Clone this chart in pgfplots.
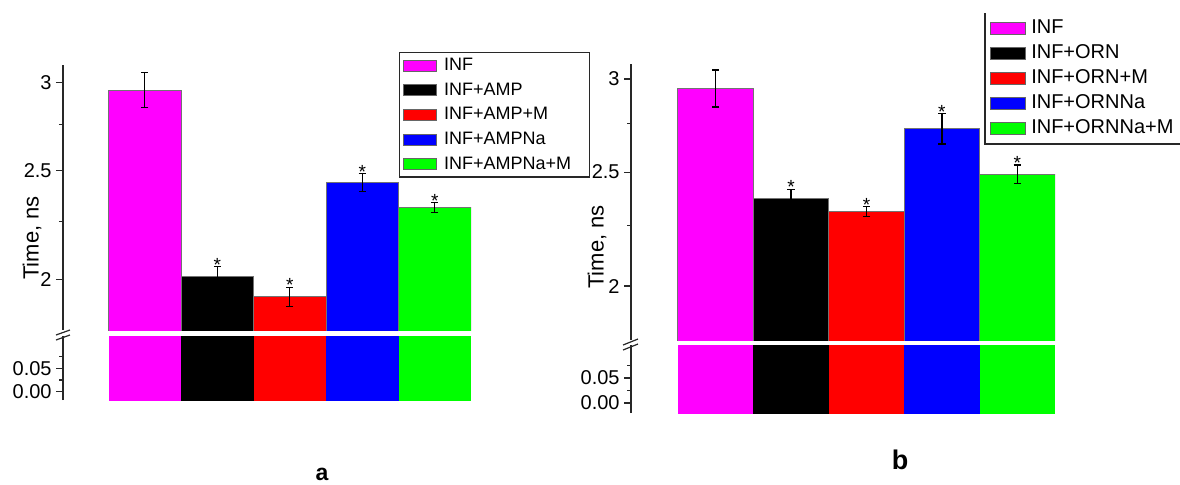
\documentclass[border=0pt]{standalone}
\usepackage{pgfplots}
\pgfplotsset{compat=1.18}
\usepackage{fontspec}
\setmainfont{Liberation Sans}
\definecolor{cM}{RGB}{255,0,255}
\definecolor{cK}{RGB}{0,0,0}
\definecolor{cR}{RGB}{255,0,0}
\definecolor{cB}{RGB}{0,0,255}
\definecolor{cG}{RGB}{0,255,0}
\definecolor{axc}{RGB}{40,40,40}

\pgfplotsset{
  brk/.style={
    scale only axis,
    axis x line=none,
    axis y line*=left,
    axis line style={axc, line width=0.6pt, -},
    tick align=outside,
    major tick length=3.5pt,
    minor tick length=2pt,
    every tick/.style={axc, line width=0.6pt},
    yticklabel style={font=\fontsize{10}{12}\selectfont, inner xsep=2pt},
    /pgf/number format/assume math mode=true,
  },
  bup/.style={ybar, bar width=1, bar shift=0pt, draw=black!55, line width=0.5pt, fill=#1,
    /pgfplots/error bars/y dir=both, /pgfplots/error bars/y explicit,
    /pgfplots/error bars/error mark=-,
    /pgfplots/error bars/error bar style={black, line width=0.6pt},
    /pgfplots/error bars/error mark options={rotate=90, black, line width=0.6pt, mark size=1.8pt}},
  blo/.style={ybar, bar width=1, bar shift=0pt, draw=none, fill=#1, forget plot},
  stars/.style={draw=none, forget plot, nodes near coords={*},
    every node near coord/.append style={anchor=base, yshift=-2.3pt, inner sep=0pt, text=black, font=\fontsize{9.5}{9.5}\selectfont}},
}

\begin{document}
\begin{tikzpicture}
\path[use as bounding box] (0,0) rectangle (590pt,242pt);

% ---------------- panel a, upper part ----------------
\begin{axis}[brk, at={(31.5pt,77pt)}, anchor=south west, width=204pt, height=132.5pt,
  xmin=-1.13, xmax=4.5, ymode=log, ymin=1.801, ymax=3.108,
  ytick={2,2.5,3}, yticklabels={2,2.5,3}, minor ytick={2.25,2.75},
  ylabel={Time, ns},
  ylabel style={at={(axis description cs:-0.076,0.347)}, anchor=center, font=\fontsize{11}{13}\selectfont},
  legend cell align=left,
  legend style={at={(axis description cs:0.8235,1.049)}, anchor=north west, draw=axc, line width=0.6pt, fill=white,
    inner xsep=1.85pt, inner ysep=2pt, /tikz/row sep=3.3pt, /tikz/column sep=3.5pt,
    font=\fontsize{9}{10}\selectfont,
    nodes={inner sep=0pt, text height=7pt, text depth=2pt, text width=71pt}},
  legend image code/.code={\draw[#1,/tikz/.cd,draw=black!60,line width=0.4pt] (0pt,-2.75pt) rectangle (16.5pt,2.75pt);},
]
\addplot[bup=cM] coordinates {(0,2.952) +- (0,0.106)};
\addplot[bup=cK] coordinates {(1,2.012) +- (0,0.039)};
\addplot[bup=cR] coordinates {(2,1.929) +- (0,0.038)};
\addplot[bup=cB] coordinates {(3,2.439) +- (0,0.045)};
\addplot[bup=cG] coordinates {(4,2.316) +- (0,0.024)};
\addplot[stars] coordinates {(1,2.051) (2,1.967) (3,2.484) (4,2.340)};
\legend{INF,INF+AMP,INF+AMP+M,INF+AMPNa,INF+AMPNa+M}
\end{axis}

% ---------------- panel a, lower part ----------------
\begin{axis}[brk, at={(31.5pt,42pt)}, anchor=south west, width=204pt, height=32pt,
  xmin=-1.13, xmax=4.5, ymin=-0.0177, ymax=0.119,
  ytick={0,0.05}, yticklabels={0.00,0.05}, minor ytick={0.025,0.075}]
\addplot[blo=cM] coordinates {(0,2.952)};
\addplot[blo=cK] coordinates {(1,2.012)};
\addplot[blo=cR] coordinates {(2,1.929)};
\addplot[blo=cB] coordinates {(3,2.439)};
\addplot[blo=cG] coordinates {(4,2.316)};
\addplot[blo=cM] coordinates {(0,-0.05)};
\addplot[blo=cK] coordinates {(1,-0.05)};
\addplot[blo=cR] coordinates {(2,-0.05)};
\addplot[blo=cB] coordinates {(3,-0.05)};
\addplot[blo=cG] coordinates {(4,-0.05)};
\end{axis}

% ---------------- panel b, upper part ----------------
\begin{axis}[brk, at={(315.5pt,72pt)}, anchor=south west, width=212pt, height=138pt,
  xmin=-1.123, xmax=4.5, ymode=log, ymin=1.7993, ymax=3.090,
  ytick={2,2.5,3}, yticklabels={2,2.5,3}, minor ytick={2.25,2.75},
  ylabel={Time, ns},
  ylabel style={at={(axis description cs:-0.0802,0.337)}, anchor=center, font=\fontsize{11}{13}\selectfont},
  legend cell align=left,
  legend style={at={(axis description cs:0.835,1.183)}, anchor=north west, draw=none, fill=white,
    inner xsep=2.5pt, inner ysep=2.5pt, /tikz/row sep=3pt, /tikz/column sep=2.5pt,
    font=\fontsize{10}{11}\selectfont,
    nodes={inner sep=0pt, text height=7.5pt, text depth=2pt, text width=80pt}},
  legend image code/.code={\draw[#1,/tikz/.cd,draw=black!60,line width=0.4pt] (0pt,-3pt) rectangle (17.5pt,3pt);},
]
\addplot[bup=cM] coordinates {(0,2.947) +- (0,0.107)};
\addplot[bup=cK] coordinates {(1,2.373) +- (0,0.044)};
\addplot[bup=cR] coordinates {(2,2.314) +- (0,0.022)};
\addplot[bup=cB] coordinates {(3,2.722) +- (0,0.080)};
\addplot[bup=cG] coordinates {(4,2.489) +- (0,0.046)};
\addplot[stars] coordinates {(1,2.417) (2,2.336) (3,2.802) (4,2.535)};
\legend{INF,INF+ORN,INF+ORN+M,INF+ORNNa,INF+ORNNa+M}
\end{axis}

% ---------------- panel b, lower part ----------------
\begin{axis}[brk, at={(315.5pt,35.5pt)}, anchor=south west, width=212pt, height=34pt,
  xmin=-1.123, xmax=4.5, ymin=-0.02, ymax=0.116,
  ytick={0,0.05}, yticklabels={0.00,0.05}, minor ytick={0.025,0.075}]
\addplot[blo=cM] coordinates {(0,2.947)};
\addplot[blo=cK] coordinates {(1,2.373)};
\addplot[blo=cR] coordinates {(2,2.314)};
\addplot[blo=cB] coordinates {(3,2.722)};
\addplot[blo=cG] coordinates {(4,2.489)};
\addplot[blo=cM] coordinates {(0,-0.05)};
\addplot[blo=cK] coordinates {(1,-0.05)};
\addplot[blo=cR] coordinates {(2,-0.05)};
\addplot[blo=cB] coordinates {(3,-0.05)};
\addplot[blo=cG] coordinates {(4,-0.05)};
\end{axis}

% axis break marks
\draw[axc, line width=0.6pt] (28pt,74.5pt) -- (35pt,77pt);
\draw[axc, line width=0.6pt] (28pt,72pt) -- (35pt,74.5pt);
\draw[axc, line width=0.6pt] (311.5pt,69.5pt) -- (319pt,72.5pt);
\draw[axc, line width=0.6pt] (311.5pt,67pt) -- (319pt,70pt);

% legend frame of panel b (cropped at the top and right)
\draw[axc, line width=0.6pt] (492.5pt,235.5pt) -- (492.5pt,170pt) -- (590pt,170pt);

% panel letters
\node[anchor=base, font=\bfseries\fontsize{11.5}{12}\selectfont, inner sep=0pt] at (161pt,2pt) {a};
\node[anchor=base, font=\bfseries\fontsize{13.5}{14}\selectfont, inner sep=0pt] at (450pt,7.5pt) {b};
\end{tikzpicture}
\end{document}
